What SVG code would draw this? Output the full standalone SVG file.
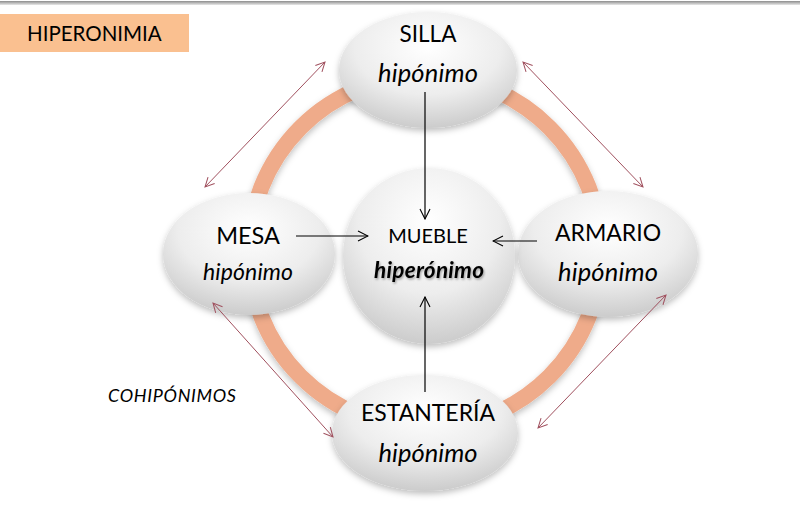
<svg xmlns="http://www.w3.org/2000/svg" width="800" height="520" viewBox="0 0 800 520">
<defs>
<radialGradient id="nodeFill" cx="0.5" cy="0.3" r="0.75">
<stop offset="0" stop-color="#FFFFFF"/>
<stop offset="0.55" stop-color="#EDEDED"/>
<stop offset="1" stop-color="#C6C6C6"/>
</radialGradient>
<filter id="shadow" x="-20%" y="-20%" width="140%" height="150%">
<feDropShadow dx="0" dy="3" stdDeviation="3" flood-color="#000" flood-opacity="0.25"/>
</filter>
<filter id="textShadow" x="-10%" y="-20%" width="120%" height="160%">
<feDropShadow dx="1" dy="1.5" stdDeviation="1" flood-color="#000" flood-opacity="0.35"/>
</filter>
<linearGradient id="topLine" x1="0" y1="0" x2="0" y2="1">
<stop offset="0" stop-color="#8C8C8C"/>
<stop offset="1" stop-color="#E8E8E8"/>
</linearGradient>
<marker id="openArrow" viewBox="0 0 12 12" refX="11" refY="6" markerWidth="12" markerHeight="12" markerUnits="userSpaceOnUse" orient="auto">
<path d="M1,1 L11,6 L1,11" fill="none" stroke="#000" stroke-width="1.1"/>
</marker>
<marker id="redEnd" viewBox="0 0 12 12" refX="11" refY="6" markerWidth="11" markerHeight="11" markerUnits="userSpaceOnUse" orient="auto">
<path d="M1,1 L11,6 L1,11" fill="none" stroke="#A0505E" stroke-width="1.1"/>
</marker>
<marker id="redStart" viewBox="0 0 12 12" refX="1" refY="6" markerWidth="11" markerHeight="11" markerUnits="userSpaceOnUse" orient="auto">
<path d="M11,1 L1,6 L11,11" fill="none" stroke="#A0505E" stroke-width="1.1"/>
</marker>
</defs>
<style>
.node { fill: url(#nodeFill); filter: url(#shadow); }
.t { font-family: Lato, "Open Sans", "Liberation Sans", sans-serif; fill: #000; text-anchor: middle; }
.i { font-style: italic; }
.arr { stroke: #000; stroke-width: 1.2; fill: none; marker-end: url(#openArrow); }
.co { stroke: #A0505E; stroke-width: 1; fill: none; marker-start: url(#redStart); marker-end: url(#redEnd); }
</style>
<rect x="0" y="0" width="800" height="520" fill="#FFFFFF"/>
<rect x="0" y="1" width="800" height="4" fill="url(#topLine)"/>
<g id="title">
<rect x="0" y="14" width="189" height="38" fill="#FAC090"/>
<text x="27" y="41" font-family="Lato, 'Open Sans', 'Liberation Sans', sans-serif" font-size="20.5" fill="#000">HIPERONIMIA</text>
</g>
<g id="ring">
<circle cx="425" cy="252" r="176" fill="none" stroke="#EFAB8A" stroke-width="16" filter="url(#shadow)"/>
</g>
<g id="silla">
<ellipse class="node" cx="428" cy="70" rx="89" ry="58"/>
<text class="t" x="428" y="42" font-size="22.5">SILLA</text>
<text class="t i" x="428" y="82" font-size="25.5" textLength="100">hipónimo</text>
</g>
<g id="mesa">
<ellipse class="node" cx="249" cy="254" rx="86" ry="61"/>
<text class="t" x="248" y="244" font-size="23.5">MESA</text>
<text class="t i" x="248" y="280" font-size="23" textLength="90">hipónimo</text>
</g>
<g id="armario">
<ellipse class="node" cx="608" cy="254" rx="90" ry="63"/>
<text class="t" x="608" y="241" font-size="23">ARMARIO</text>
<text class="t i" x="608" y="281" font-size="25.5" textLength="100">hipónimo</text>
</g>
<g id="mueble">
<ellipse class="node" cx="429" cy="256" rx="86" ry="88"/>
<text class="t" x="428" y="243" font-size="20">MUEBLE</text>
<text class="t i" x="429" y="278" font-size="22.5" font-weight="bold" fill="#111" filter="url(#textShadow)" textLength="110">hiperónimo</text>
</g>
<g id="estanteria">
<ellipse class="node" cx="425" cy="433" rx="93" ry="58"/>
<text class="t" x="428" y="421" font-size="23">ESTANTERÍA</text>
<text class="t i" x="428" y="462" font-size="25.5" textLength="99">hipónimo</text>
</g>
<g id="cohiponimos">
<text x="108" y="402" font-family="Lato, 'Open Sans', 'Liberation Sans', sans-serif" font-style="italic" font-size="18" fill="#000" textLength="128">COHIPÓNIMOS</text>
</g>
<g id="connectors">
<line class="arr" x1="425" y1="92" x2="425" y2="219"/>
<line class="arr" x1="296" y1="236" x2="368" y2="236"/>
<line class="arr" x1="537" y1="241" x2="493" y2="241"/>
<line class="arr" x1="425" y1="392" x2="425" y2="297"/>
<line class="co" x1="205" y1="187" x2="325" y2="62"/>
<line class="co" x1="523" y1="62" x2="643" y2="187"/>
<line class="co" x1="538" y1="428" x2="666" y2="295"/>
<line class="co" x1="213" y1="303" x2="333" y2="437"/>
</g>
</svg>
